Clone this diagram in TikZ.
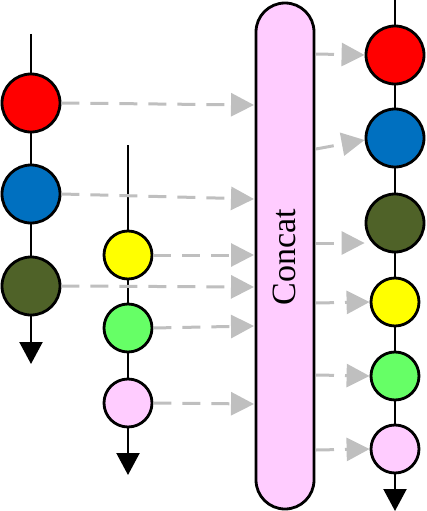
\documentclass[tikz,border=0pt]{standalone}
\usepackage{fontspec}
\setmainfont{Liberation Serif}
\usetikzlibrary{arrows.meta,calc}
\definecolor{cred}{HTML}{FF0000}
\definecolor{cblue}{HTML}{0070C0}
\definecolor{cdkg}{HTML}{4F6228}
\definecolor{cyel}{HTML}{FFFF00}
\definecolor{cgrn}{HTML}{66FF66}
\definecolor{cpink}{HTML}{FFCCFF}
\definecolor{cgray}{HTML}{BFBFBF}
\tikzset{
  bigball/.style={circle,draw=black,line width=2.8pt,minimum size=58pt,inner sep=0pt},
  smallball/.style={circle,draw=black,line width=2.8pt,minimum size=48pt,inner sep=0pt},
  spine/.style={draw=black,line width=2.2pt,-{Triangle[width=23pt,length=22pt]}},
  feed/.style={draw=cgray,line width=3pt,dash pattern=on 18pt off 11pt,-{Triangle[width=23pt,length=23pt]}},
  concatbox/.style={draw=black,line width=2.8pt,fill=cpink,rounded corners=29pt,minimum width=58pt,minimum height=506pt,inner sep=0pt}
}
\begin{document}
\begin{tikzpicture}[x=1pt,y=-1pt]
\useasboundingbox (0,0) rectangle (426,511);
% concat bar
\node[concatbox] (concat) at (285,256) {};
\node[rotate=90,font=\fontsize{34}{34}\selectfont] (ctext) at (284,257) {Concat};
% left column
\coordinate (ltop) at (31,34);
\coordinate (lbot) at (31,364);
\draw[spine] (ltop) -- (lbot);
\node[bigball,fill=cred] (l1) at (31,103) {};
\node[bigball,fill=cblue] (l2) at (31,194) {};
\node[bigball,fill=cdkg] (l3) at (31,286) {};
% middle column
\coordinate (mtop) at (128,145);
\coordinate (mbot) at (128,475);
\draw[spine] (mtop) -- (mbot);
\node[smallball,fill=cyel] (m1) at (128,255) {};
\node[smallball,fill=cgrn] (m2) at (128,328) {};
\node[smallball,fill=cpink] (m3) at (128,403) {};
% right column
\coordinate (rtop) at (395,0);
\coordinate (rbot) at (395,511);
\draw[spine] (rtop) -- (rbot);
\node[bigball,fill=cred] (r1) at (395,55) {};
\node[bigball,fill=cblue] (r2) at (395,138) {};
\node[bigball,fill=cdkg] (r3) at (395,223) {};
\node[smallball,fill=cyel] (r4) at (395,302) {};
\node[smallball,fill=cgrn] (r5) at (395,376) {};
\node[smallball,fill=cpink] (r6) at (395,449) {};
% inputs on concat
\coordinate (i1) at (254,105);
\coordinate (i2) at (254,199);
\coordinate (i3) at (254,255);
\coordinate (i4) at (254,287);
\coordinate (i5) at (254,326);
\coordinate (i6) at (254,404);
\draw[feed] (l1.east) -- (i1);
\draw[feed] (l2.east) -- (i2);
\draw[feed] (m1.east) -- (i3);
\draw[feed] (l3.east) -- (i4);
\draw[feed] (m2.east) -- (i5);
\draw[feed] (m3.east) -- (i6);
% outputs from concat
\coordinate (o1) at (316,54);
\coordinate (o2) at (316,149);
\coordinate (o3) at (316,243);
\coordinate (o4) at (316,303);
\coordinate (o5) at (316,375);
\coordinate (o6) at (316,450);
\draw[feed] (o1) -- (r1.west);
\draw[feed] (o2) -- ($(r2.west)+(0,2)$);
\draw[feed] (o3) -- (r3.west |- o3);
\draw[feed] (o4) -- (r4.west);
\draw[feed] (o5) -- (r5.west);
\draw[feed] (o6) -- (r6.west);
\end{tikzpicture}
\end{document}
